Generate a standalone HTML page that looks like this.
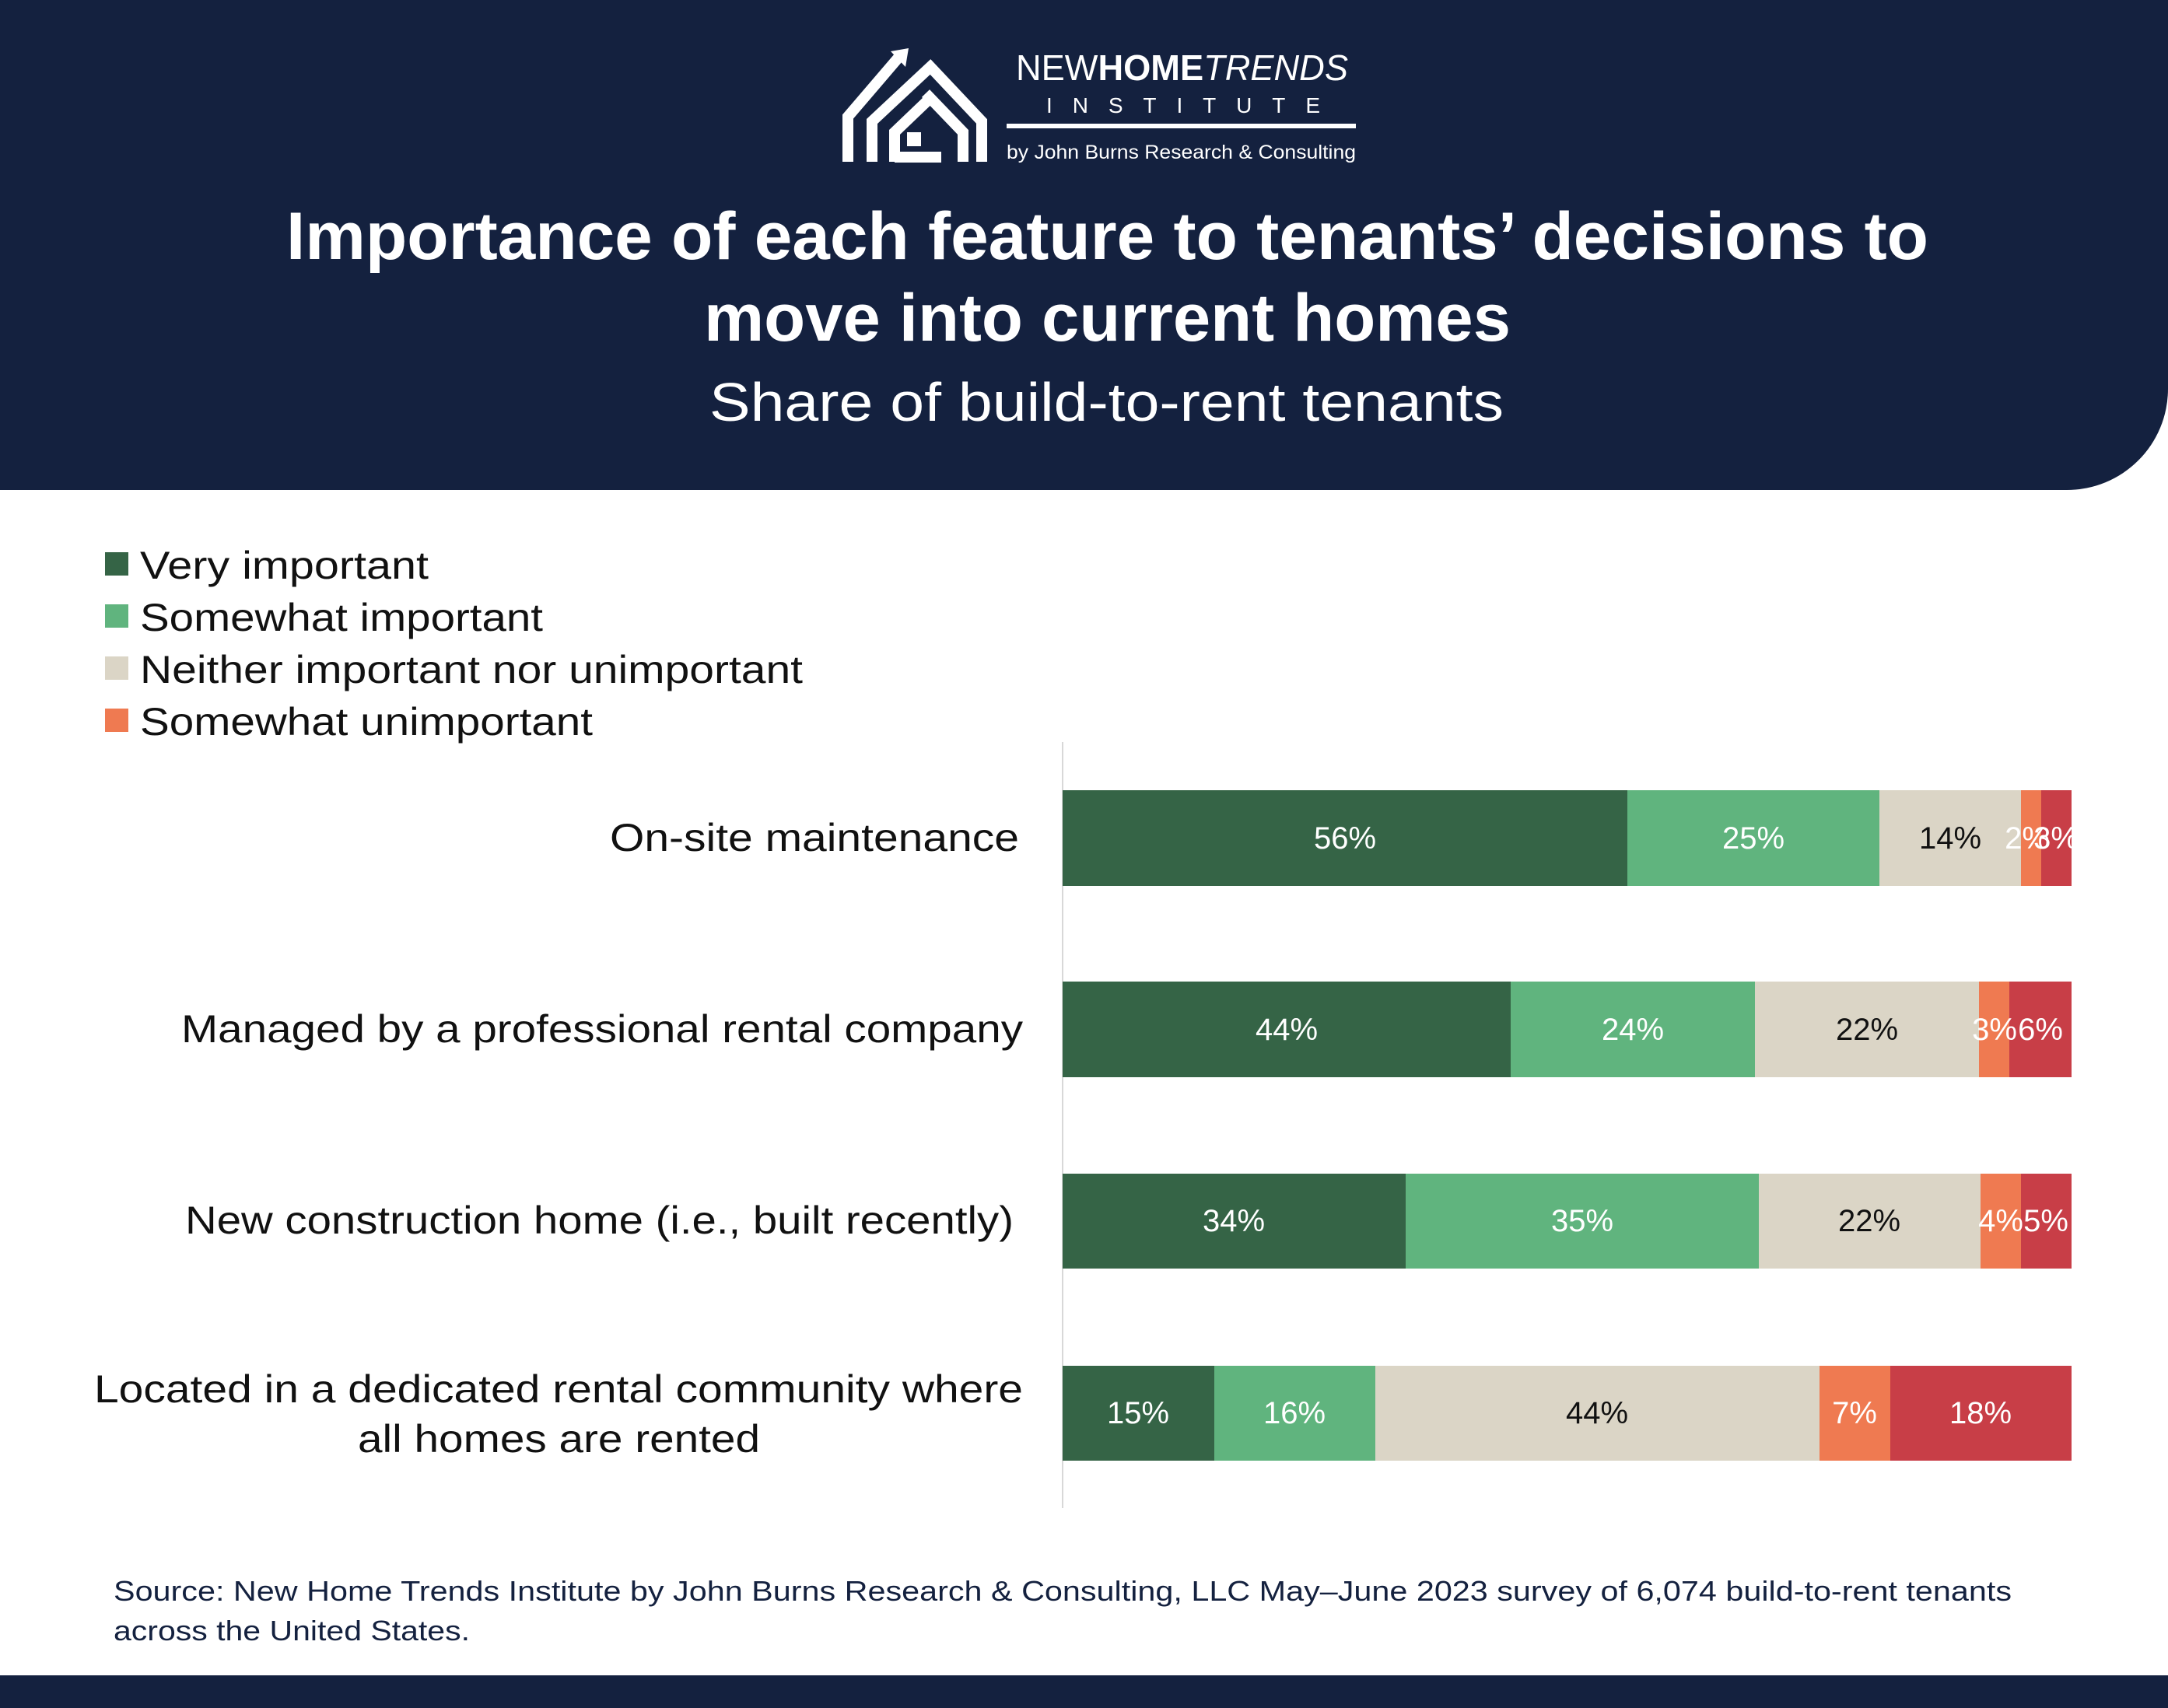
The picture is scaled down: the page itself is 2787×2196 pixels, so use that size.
<!DOCTYPE html>
<html><head><meta charset="utf-8"><style>html,body{margin:0;padding:0;background:#fff}svg{display:block}</style></head><body>
<svg width="2787" height="2196" viewBox="0 0 2787 2196" xmlns="http://www.w3.org/2000/svg" font-family="Liberation Sans, sans-serif">
<rect width="2787" height="2196" fill="#fff"/>
<path d="M0 0 H2787 V500 A130 130 0 0 1 2657 630 H0 Z" fill="#14213f"/>
<rect x="0" y="2154" width="2787" height="42" fill="#14213f"/>
<!-- logo -->
<g fill="none" stroke="#fff" stroke-width="14" stroke-linejoin="miter">
<path d="M1090 208 V150 L1155 74"/>
<path d="M1121 208 V156 L1196 86 L1262 156 V208"/>
<path d="M1150 208 V170 L1196 126 M1150 202 H1210 M1190 120 L1238 170 V208"/>
</g>
<path d="M1145 66 L1168 62 L1164 86 Z" fill="#fff"/>
<rect x="1166" y="170" width="18" height="18" fill="#fff"/>
<text x="1306" y="103" font-size="46" fill="#fff" textLength="427" lengthAdjust="spacingAndGlyphs"><tspan font-weight="300">NEW</tspan><tspan font-weight="bold">HOME</tspan><tspan font-style="italic">TRENDS</tspan></text>
<text x="1345" y="145" font-size="28" fill="#fff" textLength="352" lengthAdjust="spacing">INSTITUTE</text>
<rect x="1294" y="159" width="449" height="6" fill="#fff"/>
<text x="1294" y="204" font-size="25" fill="#fff" textLength="449" lengthAdjust="spacingAndGlyphs">by John Burns Research &amp; Consulting</text>
<!-- titles -->
<text x="368" y="304" dominant-baseline="central" font-size="86" font-weight="bold" fill="#fff" textLength="2111" lengthAdjust="spacingAndGlyphs">Importance of each feature to tenants’ decisions to</text>
<text x="905" y="409" dominant-baseline="central" font-size="86" font-weight="bold" fill="#fff" textLength="1037" lengthAdjust="spacingAndGlyphs">move into current homes</text>
<text x="912" y="517" dominant-baseline="central" font-size="70" fill="#fff" textLength="1021" lengthAdjust="spacingAndGlyphs">Share of build-to-rent tenants</text>
<!-- legend -->
<g font-size="50" fill="#111">
<rect x="135" y="710" width="30" height="30" fill="#356446"/><text x="180" y="727" dominant-baseline="central" textLength="371" lengthAdjust="spacingAndGlyphs">Very important</text>
<rect x="135" y="777" width="30" height="30" fill="#60b47e"/><text x="180" y="794" dominant-baseline="central" textLength="518" lengthAdjust="spacingAndGlyphs">Somewhat important</text>
<rect x="135" y="844" width="30" height="30" fill="#dbd5c6"/><text x="180" y="861" dominant-baseline="central" textLength="852" lengthAdjust="spacingAndGlyphs">Neither important nor unimportant</text>
<rect x="135" y="911" width="30" height="30" fill="#ef7a51"/><text x="180" y="928" dominant-baseline="central" textLength="582" lengthAdjust="spacingAndGlyphs">Somewhat unimportant</text>
</g>
<line x1="1366" y1="954" x2="1366" y2="1939" stroke="#d8d8d8" stroke-width="2"/>
<!-- category labels -->
<g font-size="50" fill="#111">
<text x="784" y="1077" dominant-baseline="central" textLength="526" lengthAdjust="spacingAndGlyphs">On-site maintenance</text>
<text x="233" y="1323" dominant-baseline="central" textLength="1082" lengthAdjust="spacingAndGlyphs">Managed by a professional rental company</text>
<text x="238" y="1569" dominant-baseline="central" textLength="1065" lengthAdjust="spacingAndGlyphs">New construction home (i.e., built recently)</text>
<text x="121" y="1786" dominant-baseline="central" textLength="1194" lengthAdjust="spacingAndGlyphs">Located in a dedicated rental community where</text>
<text x="460" y="1850" dominant-baseline="central" textLength="517" lengthAdjust="spacingAndGlyphs">all homes are rented</text>
</g>
<!-- bars -->
<g font-size="40" text-anchor="middle">
<rect x="1366" y="1016" width="726" height="123" fill="#356446"/><text x="1729" y="1078" dominant-baseline="central" fill="#fff">56%</text>
<rect x="2092" y="1016" width="324" height="123" fill="#60b47e"/><text x="2254" y="1078" dominant-baseline="central" fill="#fff">25%</text>
<rect x="2416" y="1016" width="182" height="123" fill="#dbd5c6"/><text x="2507" y="1078" dominant-baseline="central" fill="#111">14%</text>
<rect x="2598" y="1016" width="26" height="123" fill="#ef7a51"/>
<rect x="2624" y="1016" width="39" height="123" fill="#c83e47"/>
<text x="2606" y="1078" dominant-baseline="central" fill="#fff">2%</text><text x="2643" y="1078" dominant-baseline="central" fill="#fff">3%</text>

<rect x="1366" y="1262" width="576" height="123" fill="#356446"/><text x="1654" y="1324" dominant-baseline="central" fill="#fff">44%</text>
<rect x="1942" y="1262" width="314" height="123" fill="#60b47e"/><text x="2099" y="1324" dominant-baseline="central" fill="#fff">24%</text>
<rect x="2256" y="1262" width="288" height="123" fill="#dbd5c6"/><text x="2400" y="1324" dominant-baseline="central" fill="#111">22%</text>
<rect x="2544" y="1262" width="39" height="123" fill="#ef7a51"/>
<rect x="2583" y="1262" width="80" height="123" fill="#c83e47"/>
<text x="2564" y="1324" dominant-baseline="central" fill="#fff">3%</text><text x="2623" y="1324" dominant-baseline="central" fill="#fff">6%</text>

<rect x="1366" y="1509" width="441" height="122" fill="#356446"/><text x="1586" y="1570" dominant-baseline="central" fill="#fff">34%</text>
<rect x="1807" y="1509" width="454" height="122" fill="#60b47e"/><text x="2034" y="1570" dominant-baseline="central" fill="#fff">35%</text>
<rect x="2261" y="1509" width="285" height="122" fill="#dbd5c6"/><text x="2403" y="1570" dominant-baseline="central" fill="#111">22%</text>
<rect x="2546" y="1509" width="52" height="122" fill="#ef7a51"/>
<rect x="2598" y="1509" width="65" height="122" fill="#c83e47"/>
<text x="2572" y="1570" dominant-baseline="central" fill="#fff">4%</text><text x="2630" y="1570" dominant-baseline="central" fill="#fff">5%</text>

<rect x="1366" y="1756" width="195" height="122" fill="#356446"/><text x="1463" y="1817" dominant-baseline="central" fill="#fff">15%</text>
<rect x="1561" y="1756" width="207" height="122" fill="#60b47e"/><text x="1664" y="1817" dominant-baseline="central" fill="#fff">16%</text>
<rect x="1768" y="1756" width="571" height="122" fill="#dbd5c6"/><text x="2053" y="1817" dominant-baseline="central" fill="#111">44%</text>
<rect x="2339" y="1756" width="91" height="122" fill="#ef7a51"/><text x="2384" y="1817" dominant-baseline="central" fill="#fff">7%</text>
<rect x="2430" y="1756" width="233" height="122" fill="#c83e47"/><text x="2546" y="1817" dominant-baseline="central" fill="#fff">18%</text>
</g>
<!-- source -->
<g font-size="36" fill="#14213f">
<text x="146" y="2058" textLength="2440" lengthAdjust="spacingAndGlyphs">Source: New Home Trends Institute by John Burns Research &amp; Consulting, LLC May–June 2023 survey of 6,074 build-to-rent tenants</text>
<text x="146" y="2109" textLength="458" lengthAdjust="spacingAndGlyphs">across the United States.</text>
</g>
</svg>
</body></html>
